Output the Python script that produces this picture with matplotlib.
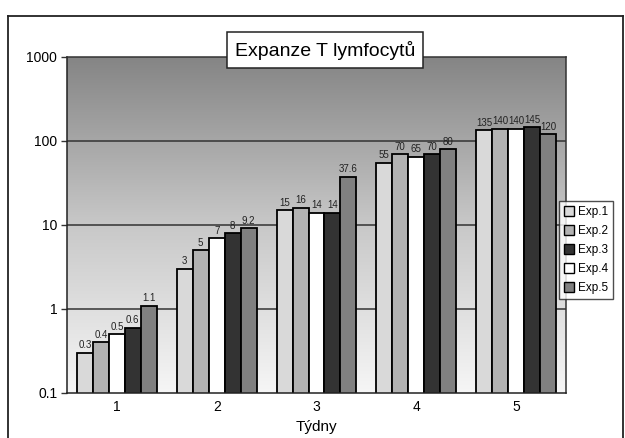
import numpy as np
import matplotlib
matplotlib.use("Agg")
import matplotlib.pyplot as plt
from matplotlib.patches import Patch
from matplotlib.lines import Line2D
from matplotlib.ticker import FixedLocator, FixedFormatter
from matplotlib.colors import LinearSegmentedColormap

plt.rcParams['font.family'] = ['Liberation Sans', 'DejaVu Sans']

weeks = ['1', '2', '3', '4', '5']
series_names = ['Exp.1', 'Exp.2', 'Exp.3', 'Exp.4', 'Exp.5']
exp1 = [0.3, 3, 15, 55, 135]
exp2 = [0.4, 5, 16, 70, 140]
exp3 = [0.6, 8, 14, 70, 145]
exp4 = [0.5, 7, 14, 65, 140]
exp5 = [1.1, 9.2, 37.6, 80, 120]
label_text = {
    'Exp.1': ['0.3', '3', '15', '55', '135'],
    'Exp.2': ['0.4', '5', '16', '70', '140'],
    'Exp.3': ['0.6', '8', '14', '70', '145'],
    'Exp.4': ['0.5', '7', '14', '65', '140'],
    'Exp.5': ['1.1', '9.2', '37.6', '80', '120'],
}
values = {'Exp.1': exp1, 'Exp.2': exp2, 'Exp.3': exp3, 'Exp.4': exp4, 'Exp.5': exp5}
colors = {'Exp.1': '#d9d9d9', 'Exp.2': '#b2b2b2', 'Exp.3': '#333333',
          'Exp.4': '#ffffff', 'Exp.5': '#808080'}
# order of bars inside each group (left to right)
bar_order = ['Exp.1', 'Exp.2', 'Exp.4', 'Exp.3', 'Exp.5']
yticks = [0.1, 1, 10, 100, 1000]
ytick_labels = ['0.1', '1', '10', '100', '1000']

fig = plt.figure(figsize=(6.25, 4.38), dpi=100)
W, H = 625, 438

def fx(px):
    return px / W

def fy(py):
    return 1 - py / H

# outer chart border
for (x0, y0, x1, y1) in [(8, 16, 8, 440), (8, 16, 623, 16), (623, 16, 623, 440)]:
    fig.add_artist(Line2D([fx(x0), fx(x1)], [fy(y0), fy(y1)], color='#222222', lw=1.3,
                          transform=fig.transFigure))

ax = fig.add_axes([fx(67), fy(393), fx(566) - fx(67), fy(57) - fy(393)])
ax.set_yscale('log')
ax.set_xlim(-0.5, 4.5)

# gradient background
grad = np.linspace(0, 1, 256).reshape(-1, 1)
cmap = LinearSegmentedColormap.from_list('bg', ['#f6f6f6', '#c8c8c8', '#858585'])
ax.imshow(grad, aspect='auto', cmap=cmap, origin='lower', extent=[0, 1, 0, 1],
          transform=ax.transAxes, zorder=0)

for gy in [1, 10, 100]:
    ax.axhline(gy, color='#333333', lw=1.1, zorder=1)

x = np.arange(len(weeks))
bw = 0.16
for i, name in enumerate(bar_order):
    pos = x - 0.4 + bw * (i + 0.5)
    vals = values[name]
    ax.bar(pos, vals, width=bw, color=colors[name], edgecolor='black',
           linewidth=1.3, zorder=2)
    for p, v, t in zip(pos, vals, label_text[name]):
        ax.text(p, v * 1.07, t, ha='center', va='bottom', fontsize=7,
                color='#222222', zorder=3)

ax.set_ylim(0.1, 1000)
ax.yaxis.set_major_locator(FixedLocator(yticks))
ax.yaxis.set_major_formatter(FixedFormatter(ytick_labels))
ax.yaxis.set_minor_locator(FixedLocator([]))
ax.set_xticks(x)
ax.set_xticklabels(weeks)
ax.tick_params(axis='y', length=4, width=1, color='#333333', labelsize=10, pad=3)
ax.tick_params(axis='x', length=0, labelsize=10, pad=5)
for s in ax.spines.values():
    s.set_color('#333333')
    s.set_linewidth(1.1)
ax.spines['left'].set_color('#222222')
ax.spines['bottom'].set_color('#222222')
ax.set_xlabel('Týdny', fontsize=11, labelpad=4)

# title box
fig.text(fx(325), fy(50), 'Expanze T lymfocytů', ha='center', va='center', fontsize=14,
         bbox=dict(boxstyle='square,pad=0.42', facecolor='white', edgecolor='#222222', lw=1.1),
         zorder=10)

handles = [Patch(facecolor=colors[n], edgecolor='black', lw=1.0, label=n) for n in series_names]
leg = fig.legend(handles=handles, loc='upper left', bbox_to_anchor=(fx(559), fy(201)),
                 fontsize=8.5, frameon=True, fancybox=False, handlelength=0.9,
                 handleheight=0.9, handletextpad=0.3, labelspacing=0.6,
                 borderpad=0.4, borderaxespad=0)
leg.get_frame().set_edgecolor('#222222')
leg.get_frame().set_linewidth(1.0)
leg.set_zorder(10)

fig.savefig('out.png', dpi=100)
